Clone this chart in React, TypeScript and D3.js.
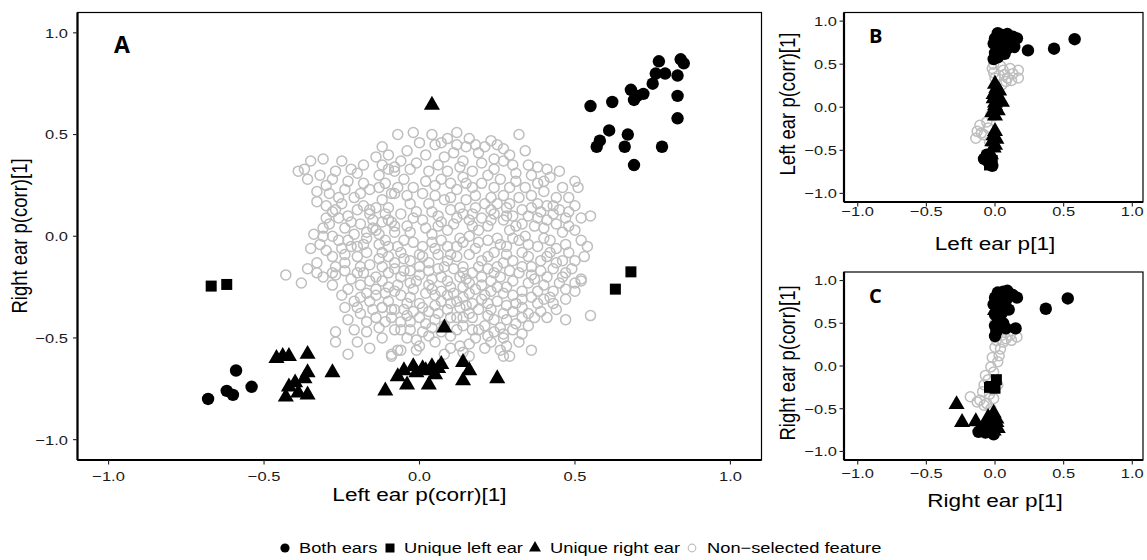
import React from 'react';
import * as d3 from 'd3';

const W = 1147;
const H = 560;
const TICKS = [-1, -0.5, 0, 0.5, 1];
const GREY = '#bebebe';
const FONT = '"Liberation Sans", Arial, sans-serif';
// text in the reference is drawn a bit wider than the font's natural width
const SX = 1.22;

type Pt = [number, number];

// ---- panel A: Left ear p(corr)[1] vs Right ear p(corr)[1]
const aBoth: Pt[] = [
  [0.55, 0.64], [0.62, 0.66], [0.68, 0.72], [0.70, 0.69], [0.72, 0.70], [0.69, 0.67],
  [0.77, 0.86], [0.84, 0.87], [0.85, 0.85], [0.76, 0.80], [0.79, 0.80], [0.83, 0.79],
  [0.75, 0.75], [0.83, 0.69], [0.83, 0.58], [0.61, 0.52], [0.58, 0.47], [0.57, 0.44],
  [0.67, 0.50], [0.66, 0.44], [0.78, 0.44], [0.69, 0.35],
  [-0.68, -0.80], [-0.59, -0.66], [-0.62, -0.76], [-0.60, -0.78], [-0.54, -0.74],
];
const aLeft: Pt[] = [[-0.67, -0.245], [-0.62, -0.237], [0.63, -0.26], [0.68, -0.175]];
const aRight: Pt[] = [
  [0.04, 0.645],
  [-0.46, -0.60], [-0.44, -0.59], [-0.42, -0.59], [-0.36, -0.58], [-0.36, -0.67], [-0.37, -0.70],
  [-0.40, -0.72], [-0.42, -0.74], [-0.43, -0.79], [-0.39, -0.77], [-0.36, -0.78], [-0.28, -0.67],
  [0.08, -0.45], [-0.11, -0.76], [-0.07, -0.69], [-0.04, -0.73], [-0.02, -0.64], [-0.01, -0.67],
  [0.01, -0.65], [0.02, -0.66], [0.04, -0.64], [0.05, -0.68], [0.06, -0.65], [0.07, -0.63],
  [0.03, -0.73], [0.14, -0.62], [0.16, -0.66], [0.14, -0.71], [0.25, -0.70], [-0.05, -0.66],
];
const aNone: Pt[] = [
  [-0.39, 0.32], [-0.35, 0.37], [-0.31, 0.38], [-0.36, 0.28], [-0.33, 0.22], [-0.29, 0.21],
  [-0.24, 0.23], [-0.22, 0.33], [-0.20, 0.31], [-0.14, 0.39], [-0.27, 0.32], [-0.28, 0.28],
  [-0.16, 0.23], [-0.13, 0.30], [-0.09, 0.21], [-0.08, 0.32], [-0.07, 0.50],
  [-0.28, 0.12], [-0.26, 0.09], [-0.29, 0.06], [-0.31, 0.04], [-0.34, 0.01], [-0.35, -0.06],
  [-0.32, -0.04], [-0.28, 0.00], [-0.23, -0.02], [-0.21, 0.01], [-0.20, -0.05], [-0.18, -0.04],
  [-0.20, 0.13], [-0.18, 0.15], [-0.16, 0.13], [-0.14, 0.14], [-0.21, 0.19], [-0.16, 0.11],
  [-0.15, 0.08], [-0.12, 0.07], [-0.09, 0.07], [-0.14, 0.03], [-0.13, 0.01], [-0.11, -0.02],
  [-0.28, -0.10], [-0.27, -0.15], [-0.24, -0.13], [-0.33, -0.13], [-0.33, -0.18], [-0.28, -0.18],
  [-0.43, -0.19], [-0.20, -0.10], [-0.19, -0.15], [-0.13, -0.11], [-0.18, -0.18],
  [-0.38, -0.23], [-0.28, -0.24], [-0.27, -0.19], [-0.20, -0.18], [-0.16, -0.22], [-0.17, -0.28],
  [-0.21, -0.32], [-0.14, -0.29], [-0.12, -0.35], [-0.15, -0.36], [-0.14, -0.40], [-0.09, -0.36],
  [-0.23, -0.41], [-0.27, -0.47], [-0.27, -0.52], [-0.23, -0.58], [-0.17, -0.47], [-0.16, -0.55],
  [-0.09, -0.58], [-0.08, -0.46], [-0.07, -0.56],
  [0.47, -0.41], [0.55, -0.39], [0.52, -0.22], [0.50, -0.27], [0.43, -0.27], [0.36, -0.56],
  [0.29, -0.59], [0.27, -0.59], [0.32, -0.52], [0.28, -0.54], [0.27, -0.50], [0.27, -0.48],
  [0.35, -0.44], [0.37, -0.40], [0.31, -0.43], [0.16, -0.59], [0.13, -0.54], [0.16, -0.53],
  [0.10, -0.55], [0.08, -0.58], [-0.01, -0.56], [-0.06, -0.56], [-0.09, -0.59], [-0.06, -0.46],
  [-0.01, -0.51], [0.03, -0.49], [0.01, -0.47], [0.12, -0.40], [0.17, -0.46], [0.17, -0.40],
  [0.24, -0.41], [0.23, -0.36], [0.20, -0.31], [0.31, -0.33], [0.35, -0.38], [0.39, -0.37],
  [0.40, -0.31], [0.33, -0.31], [0.38, -0.27], [0.30, -0.29], [0.28, -0.25], [0.23, -0.27],
  [0.18, -0.26], [0.14, -0.25], [0.11, -0.28], [0.07, -0.32], [0.03, -0.37], [-0.02, -0.37],
  [-0.06, -0.42], [0.05, -0.41], [0.09, -0.36], [0.13, -0.35], [0.14, -0.40], [0.00, -0.33],
  [-0.04, -0.33], [-0.08, -0.36], [-0.12, -0.35], [0.46, -0.20], [0.41, -0.20], [0.35, -0.23],
  [0.32, -0.18], [0.26, -0.20], [0.20, -0.20], [0.13, -0.20], [0.07, -0.20], [0.00, -0.19],
  [-0.06, -0.20], [-0.03, -0.23], [0.03, -0.24], [0.10, -0.25], [0.16, -0.23], [0.23, -0.22],
  [-0.11, -0.28], [-0.06, -0.29], [0.02, -0.28], [0.07, -0.27], [0.14, -0.30], [0.17, -0.33],
  [0.25, -0.32], [0.27, -0.38], [0.08, -0.44], [0.12, -0.46], [0.22, -0.49], [0.21, -0.55],
  [0.51, 0.24], [0.50, 0.27], [0.55, 0.10], [0.54, -0.05], [0.48, 0.12], [0.45, 0.13],
  [0.43, 0.11], [0.45, 0.32], [0.41, 0.33], [0.38, 0.34], [0.35, 0.35], [0.42, 0.29],
  [0.40, 0.22], [0.38, 0.26], [0.31, 0.31], [0.27, 0.37], [0.24, 0.33], [0.23, 0.47],
  [0.21, 0.44], [0.15, 0.44], [0.12, 0.45], [0.11, 0.41], [0.05, 0.45], [0.07, 0.46],
  [-0.02, 0.51], [0.12, 0.51], [0.32, 0.50], [-0.08, 0.34], [-0.01, 0.36], [0.03, 0.32],
  [0.09, 0.32], [0.17, 0.32], [0.20, 0.36], [-0.06, 0.37], [-0.08, 0.21], [-0.02, 0.24],
  [0.01, 0.21], [0.07, 0.28], [0.10, 0.19], [0.15, 0.26], [0.20, 0.26], [0.23, 0.19],
  [0.29, 0.24], [0.32, 0.19], [0.38, 0.16], [0.33, 0.13], [0.28, 0.14], [0.24, 0.11],
  [0.18, 0.14], [0.13, 0.14], [0.08, 0.18], [0.03, 0.16], [-0.03, 0.16], [-0.06, 0.11],
  [-0.10, 0.08], [-0.04, 0.05], [0.01, 0.08], [0.06, 0.10], [0.11, 0.06], [0.16, 0.08],
  [0.22, 0.05], [0.27, 0.08], [0.31, 0.05], [0.37, 0.05], [0.41, 0.08], [0.42, -0.02],
  [0.38, -0.05], [0.32, -0.02], [0.28, -0.05], [0.22, -0.02], [0.16, 0.00], [0.12, -0.05],
  [0.07, -0.02], [0.01, -0.05], [-0.05, -0.02], [-0.10, -0.05], [-0.08, -0.13], [-0.03, -0.12],
  [0.03, -0.13], [0.09, -0.12], [0.14, -0.15], [0.20, -0.12], [0.25, -0.15], [0.30, -0.12],
  [0.36, -0.15], [0.41, -0.10], [0.46, -0.12], [0.47, -0.18], [0.52, -0.21],
  [-0.05, 0.28], [0.05, 0.25], [0.12, 0.23], [0.18, 0.20], [0.26, 0.28], [0.34, 0.24],
  [0.44, 0.19], [0.48, 0.05], [0.35, 0.10], [0.25, 0.16], [0.20, 0.09], [0.14, 0.11],
  [0.09, 0.03], [0.04, 0.01], [-0.01, 0.12], [-0.08, 0.02], [-0.12, -0.08], [-0.06, -0.08],
  [0.00, -0.09], [0.05, -0.06], [0.10, -0.09], [0.18, -0.06], [0.24, -0.08], [0.33, -0.08],
  [0.39, -0.12], [0.44, -0.06], [0.50, -0.12], [0.43, -0.16], [0.36, -0.19], [0.29, -0.17],
  [0.22, -0.16], [0.17, -0.18], [0.11, -0.16], [0.06, -0.16], [0.00, -0.15], [-0.05, -0.17],
  [-0.10, -0.18], [-0.14, -0.20], [-0.23, -0.26], [-0.10, -0.25], [-0.02, -0.26], [0.05, -0.29],
  [0.12, -0.32], [0.19, -0.36], [0.30, -0.37], [0.43, -0.33], [0.45, -0.23], [0.21, -0.44],
  [0.26, -0.45], [0.04, -0.45], [-0.03, -0.42], [-0.11, -0.42], [-0.19, -0.38], [-0.24, -0.35],
  [-0.25, -0.06], [-0.22, 0.07], [-0.25, 0.16], [-0.30, 0.15], [-0.18, 0.26], [-0.11, 0.26],
  [-0.04, 0.42], [0.02, 0.40], [0.08, 0.39], [0.14, 0.37], [0.19, 0.41], [0.27, 0.43],
  [0.34, 0.42], [0.29, 0.03], [0.34, 0.00], [0.46, 0.02], [-0.17, 0.02], [-0.23, 0.10],
  [-0.10, 0.14], [0.06, 0.05], [0.13, -0.01], [0.19, 0.03], [0.25, -0.01], [0.38, 0.09],
  [0.30, 0.10],
  [-0.12, 0.44], [-0.10, 0.40], [0.00, 0.46], [0.04, 0.50], [0.09, 0.48], [0.16, 0.48],
  [0.18, 0.45], [0.25, 0.45], [0.29, 0.40], [0.24, 0.38], [-0.03, 0.33], [0.06, 0.35],
  [0.13, 0.34], [0.22, 0.30], [0.30, 0.35], [0.36, 0.30], [0.14, 0.29], [-0.10, 0.33],
  [-0.18, 0.35], [-0.25, 0.37], [-0.32, 0.30], [-0.37, 0.33], [-0.30, 0.25], [-0.23, 0.27],
  [-0.12, 0.35],
  [-0.13, 0.24], [-0.07, 0.24], [0.02, 0.27], [0.10, 0.26], [0.17, 0.24], [0.24, 0.24],
  [0.31, 0.27], [0.40, 0.27], [0.46, 0.24], [0.48, 0.19], [0.41, 0.15], [0.36, 0.20],
  [0.27, 0.20], [0.21, 0.16], [0.15, 0.18], [0.05, 0.20], [-0.04, 0.20], [-0.12, 0.18],
  [-0.19, 0.21], [-0.26, 0.19], [-0.33, 0.17], [-0.27, 0.13], [-0.11, 0.11], [-0.02, 0.09],
  [0.04, 0.12], [0.10, 0.13], [0.17, 0.11], [0.23, 0.13], [0.29, 0.16], [0.36, 0.14],
  [0.43, 0.15], [0.50, 0.15], [0.52, 0.09], [0.47, 0.09], [0.39, 0.12],
  [-0.30, 0.09], [-0.24, 0.04], [-0.19, 0.06], [-0.15, 0.04], [-0.08, 0.05], [-0.03, 0.02],
  [0.02, 0.04], [0.07, 0.07], [0.12, 0.09], [0.17, 0.05], [0.23, 0.08], [0.28, 0.10],
  [0.33, 0.06], [0.40, 0.04], [0.44, 0.06], [0.50, 0.03], [0.52, -0.02], [0.47, -0.04],
  [0.40, -0.01], [0.35, -0.04], [0.30, -0.01], [0.26, -0.04], [0.19, -0.03], [0.14, -0.03],
  [0.09, -0.05], [0.04, -0.03], [-0.02, -0.03], [-0.07, -0.05], [-0.13, -0.04], [-0.17, -0.01],
  [-0.22, -0.05], [-0.26, -0.02], [-0.31, 0.00], [-0.30, -0.07], [-0.24, -0.09], [-0.17, -0.08],
  [-0.10, -0.10], [-0.05, -0.11], [0.01, -0.10], [0.06, -0.09], [0.12, -0.10], [0.16, -0.09],
  [0.22, -0.10], [0.28, -0.09], [0.35, -0.10], [0.42, -0.08], [0.48, -0.08], [0.53, -0.10],
  [-0.36, -0.16], [-0.31, -0.20], [-0.24, -0.17], [-0.22, -0.21], [-0.16, -0.14], [-0.12, -0.15],
  [-0.08, -0.16], [-0.03, -0.17], [0.03, -0.17], [0.08, -0.15], [0.14, -0.18], [0.19, -0.15],
  [0.24, -0.18], [0.27, -0.13], [0.33, -0.15], [0.39, -0.17], [0.44, -0.13], [0.49, -0.16],
  [0.50, -0.23], [0.47, -0.26], [0.40, -0.24], [0.37, -0.21], [0.30, -0.22], [0.25, -0.25],
  [0.20, -0.24], [0.15, -0.21], [0.09, -0.22], [0.04, -0.21], [-0.01, -0.22], [-0.07, -0.24],
  [-0.12, -0.22], [-0.19, -0.24], [-0.25, -0.29], [-0.19, -0.30], [-0.14, -0.26], [-0.08, -0.27],
  [-0.03, -0.30], [0.04, -0.26], [0.09, -0.29], [0.16, -0.28], [0.21, -0.29], [0.27, -0.28],
  [0.33, -0.27], [0.36, -0.30], [0.42, -0.30], [0.47, -0.31],
  [-0.20, -0.35], [-0.16, -0.32], [-0.10, -0.32], [-0.05, -0.36], [0.01, -0.35], [0.05, -0.34],
  [0.10, -0.33], [0.15, -0.34], [0.22, -0.33], [0.28, -0.34], [0.33, -0.35], [0.38, -0.33],
  [0.44, -0.36], [0.41, -0.40], [0.33, -0.40], [0.28, -0.41], [0.22, -0.39], [0.16, -0.38],
  [0.10, -0.40], [0.06, -0.38], [0.00, -0.40], [-0.04, -0.39], [-0.09, -0.40], [-0.17, -0.42],
  [-0.21, -0.46], [-0.13, -0.45], [-0.03, -0.46], [0.02, -0.43], [0.07, -0.47], [0.14, -0.44],
  [0.19, -0.46], [0.24, -0.47], [0.30, -0.46], [0.33, -0.48], [0.23, -0.52], [0.18, -0.50],
  [0.10, -0.49], [0.05, -0.52], [-0.04, -0.50], [-0.12, -0.50], [-0.20, -0.52], [0.00, -0.54],
  [0.14, -0.57], [0.26, -0.56],
];

// ---- panel B: Left ear p[1] vs Left ear p(corr)[1]
const bBoth: Pt[] = [
  [0.02, 0.86], [0.05, 0.84], [0.09, 0.85], [0.13, 0.82], [0.16, 0.80], [0.00, 0.80],
  [0.03, 0.77], [0.07, 0.78], [0.11, 0.74], [0.14, 0.70], [-0.01, 0.74], [0.02, 0.70],
  [0.06, 0.72], [0.09, 0.68], [0.04, 0.65], [0.00, 0.63], [0.07, 0.62], [0.02, 0.58],
  [-0.01, 0.56], [0.24, 0.66], [0.43, 0.68], [0.58, 0.79],
  [-0.08, -0.60], [-0.03, -0.66], [-0.05, -0.63], [-0.02, -0.68], [-0.06, -0.55],
];
const bLeft: Pt[] = [[-0.02, -0.62], [-0.04, -0.67], [0.03, 0.63], [0.02, 0.68]];
const bRight: Pt[] = [
  [0.00, 0.27], [0.01, 0.22], [0.03, 0.19], [-0.01, 0.15], [0.02, 0.12], [-0.01, 0.10],
  [0.05, 0.06], [0.00, 0.05], [0.00, 0.02], [0.02, -0.04], [-0.02, -0.06], [0.00, -0.10],
  [0.00, -0.28], [-0.01, -0.33], [0.01, -0.37], [-0.02, -0.40], [0.00, -0.44], [-0.01, -0.47],
  [-0.03, -0.55],
];
const bNone: Pt[] = [
  [0.06, 0.43], [0.11, 0.45], [0.17, 0.43], [0.17, 0.34], [0.09, 0.34], [0.03, 0.37],
  [0.05, 0.26], [0.08, 0.30], [0.13, 0.39], [-0.01, 0.50], [-0.02, 0.45], [-0.01, 0.40],
  [0.00, 0.34], [0.01, 0.20], [0.02, 0.10], [0.00, 0.00], [-0.01, -0.10], [-0.13, -0.28],
  [-0.11, -0.21], [-0.08, -0.32], [-0.14, -0.36], [-0.06, -0.17], [-0.03, -0.09], [-0.05, -0.24],
  [-0.10, -0.30], [-0.02, -0.36], [-0.04, -0.40], [0.04, 0.48], [0.07, 0.38], [0.12, 0.31],
];

// ---- panel C: Right ear p[1] vs Right ear p(corr)[1]
const cBoth: Pt[] = [
  [0.02, 0.86], [0.06, 0.87], [0.09, 0.88], [0.13, 0.83], [0.16, 0.80], [0.00, 0.80],
  [0.04, 0.78], [0.08, 0.77], [-0.01, 0.72], [0.03, 0.70], [0.07, 0.68], [0.10, 0.66],
  [0.05, 0.62], [0.00, 0.60], [0.02, 0.55], [0.06, 0.50], [0.00, 0.47], [0.08, 0.44],
  [0.01, 0.40], [0.00, 0.35], [0.15, 0.44], [0.37, 0.67], [0.53, 0.79],
  [-0.12, -0.77], [-0.01, -0.80], [-0.04, -0.76], [-0.02, -0.74], [-0.07, -0.78],
];
const cLeft: Pt[] = [[0.01, -0.16], [-0.03, -0.24], [-0.04, -0.25], [0.00, -0.26]];
const cRight: Pt[] = [
  [-0.28, -0.45], [-0.24, -0.66], [-0.14, -0.65], [-0.01, -0.55], [-0.05, -0.60], [-0.03, -0.63],
  [0.01, -0.62], [-0.06, -0.66], [-0.02, -0.68], [0.00, -0.70], [-0.04, -0.72], [0.02, -0.73],
  [-0.01, -0.76], [-0.08, -0.70], [0.01, -0.66], [0.00, 0.65],
];
const cNone: Pt[] = [
  [0.11, 0.36], [0.16, 0.34], [0.06, 0.28], [0.04, 0.20], [0.03, 0.12], [0.02, 0.05],
  [-0.01, -0.07], [-0.07, -0.11], [-0.08, -0.22], [-0.18, -0.36], [-0.11, -0.40], [-0.06, -0.44],
  [-0.01, -0.38], [-0.02, -0.28], [0.02, -0.22], [0.01, 0.30], [0.00, 0.22], [0.03, 0.42],
  [0.00, 0.50], [-0.02, 0.10], [-0.03, -0.01], [-0.05, -0.16], [-0.04, -0.33], [-0.09, -0.30],
  [-0.13, -0.42], [-0.08, -0.46], [-0.03, -0.50], [0.08, 0.32], [0.12, 0.30], [0.05, 0.36],
];

const legendItems = ['Both ears', 'Unique left ear', 'Unique right ear', 'Non\u2212selected feature'];

const fmt = d3.format('.1f');
const triangle = d3.symbol().type(d3.symbolTriangle).size(112)();
const square = d3.symbol().type(d3.symbolSquare).size(121)();

interface PanelProps {
  xRange: [number, number];
  yRange: [number, number];
  xDomain: [number, number];
  both: Pt[]; left: Pt[]; right: Pt[]; none: Pt[];
  letter: string; letterPos: [number, number]; letterSize: number;
  xTitle: string; yTitle: string;
  xTickY: number; yTickX: number;
  xTitleY: number; yTitleX: number; yTitleMid: number;
}

function Panel(p: PanelProps) {
  const x = d3.scaleLinear().domain(p.xDomain).range(p.xRange);
  const y = d3.scaleLinear().domain([-1.1, 1.1]).range(p.yRange);
  const [x0, x1] = p.xRange;
  const [y0, y1] = p.yRange; // y0 bottom, y1 top
  const midX = x(0);
  return (
    <g>
      <rect x={x0} y={y1} width={x1 - x0} height={y0 - y1} fill="none" stroke="#000" strokeWidth={1.2} />
      <line x1={x0} x2={x0} y1={y1} y2={y0} stroke="#000" strokeWidth={2.2} />
      <line x1={x0} x2={x1} y1={y0} y2={y0} stroke="#000" strokeWidth={2.2} />
      {TICKS.map(t => (
        <g key={'x' + t}>
          <line x1={x(t)} x2={x(t)} y1={y0} y2={y0 + 4.5} stroke="#222" strokeWidth={1.1} />
          <text transform={`translate(${x(t)},${p.xTickY}) scale(${SX},1)`} textAnchor="middle"
            fontSize={13.5} fill="#1a1a1a">{fmt(t)}</text>
        </g>
      ))}
      {TICKS.map(t => (
        <g key={'y' + t}>
          <line x1={x0 - 4.5} x2={x0} y1={y(t)} y2={y(t)} stroke="#222" strokeWidth={1.1} />
          <text transform={`translate(${p.yTickX},${y(t)}) scale(${SX},1)`} textAnchor="end"
            dy="0.36em" fontSize={13.5} fill="#1a1a1a">{fmt(t)}</text>
        </g>
      ))}
      <text transform={`translate(${midX},${p.xTitleY}) scale(${SX},1)`} textAnchor="middle"
        fontSize={18.5} fill="#000">{p.xTitle}</text>
      <text transform={`translate(${p.yTitleX},${p.yTitleMid}) scale(${SX},1) rotate(-90)`}
        textAnchor="middle" fontSize={18.5} fill="#000">{p.yTitle}</text>
      <text x={p.letterPos[0]} y={p.letterPos[1]} fontSize={p.letterSize} fontWeight="bold"
        fontFamily='"Open Sans", sans-serif' fill="#000">{p.letter}</text>
      <g>
        {p.none.map((d, i) => (
          <circle key={i} cx={x(d[0])} cy={y(d[1])} r={5} fill="none" stroke={GREY} strokeWidth={1.5} />
        ))}
      </g>
      <g>
        {p.right.map((d, i) => (
          <path key={i} d={triangle} transform={`translate(${x(d[0])},${y(d[1])})`} fill="#000" />
        ))}
        {p.left.map((d, i) => (
          <path key={i} d={square} transform={`translate(${x(d[0])},${y(d[1])})`} fill="#000" />
        ))}
        {p.both.map((d, i) => (
          <circle key={i} cx={x(d[0])} cy={y(d[1])} r={6.2} fill="#000" />
        ))}
      </g>
    </g>
  );
}

function Legend() {
  const ly = 548;
  const marks = [285, 390, 535, 692];
  const labels = [299, 404, 550, 707];
  return (
    <g>
      <circle cx={marks[0]} cy={ly} r={4.6} fill="#000" />
      <rect x={marks[1] - 4.5} y={ly - 4.5} width={9} height={9} fill="#000" />
      <path d={d3.symbol().type(d3.symbolTriangle).size(62)()} transform={`translate(${marks[2]},${ly})`} fill="#000" />
      <circle cx={marks[3]} cy={ly} r={3.8} fill="none" stroke={GREY} strokeWidth={1.2} />
      {legendItems.map((t, i) => (
        <text key={t} transform={`translate(${labels[i]},${ly}) scale(${SX},1)`} dy="0.36em"
          fontSize={15} fill="#000">{t}</text>
      ))}
    </g>
  );
}

export default function App() {
  return (
    <svg width={W} height={H} viewBox={`0 0 ${W} ${H}`}
      style={{ position: 'absolute', left: 0, top: 0, background: '#fff', fontFamily: FONT }}>
      <rect width={W} height={H} fill="#fff" />
      <Panel xRange={[77.5, 761.5]} yRange={[460, 12.5]} xDomain={[-1.1, 1.1]}
        both={aBoth} left={aLeft} right={aRight} none={aNone}
        letter="A" letterPos={[114, 53]} letterSize={23}
        xTitle="Left ear p(corr)[1]" yTitle="Right ear p(corr)[1]"
        xTickY={481} yTickX={68} xTitleY={501} yTitleX={27} yTitleMid={236} />
      <Panel xRange={[844, 1143]} yRange={[202, 12.5]} xDomain={[-1.1, 1.078]}
        both={bBoth} left={bLeft} right={bRight} none={bNone}
        letter="B" letterPos={[869, 43]} letterSize={20}
        xTitle="Left ear p[1]" yTitle="Left ear p(corr)[1]"
        xTickY={216} yTickX={837} xTitleY={250} yTitleX={795} yTitleMid={104} />
      <Panel xRange={[844, 1143]} yRange={[460, 272]} xDomain={[-1.1, 1.078]}
        both={cBoth} left={cLeft} right={cRight} none={cNone}
        letter="C" letterPos={[869, 303]} letterSize={20}
        xTitle="Right ear p[1]" yTitle="Right ear p(corr)[1]"
        xTickY={478} yTickX={837} xTitleY={507} yTitleX={795} yTitleMid={363} />
      <Legend />
    </svg>
  );
}
